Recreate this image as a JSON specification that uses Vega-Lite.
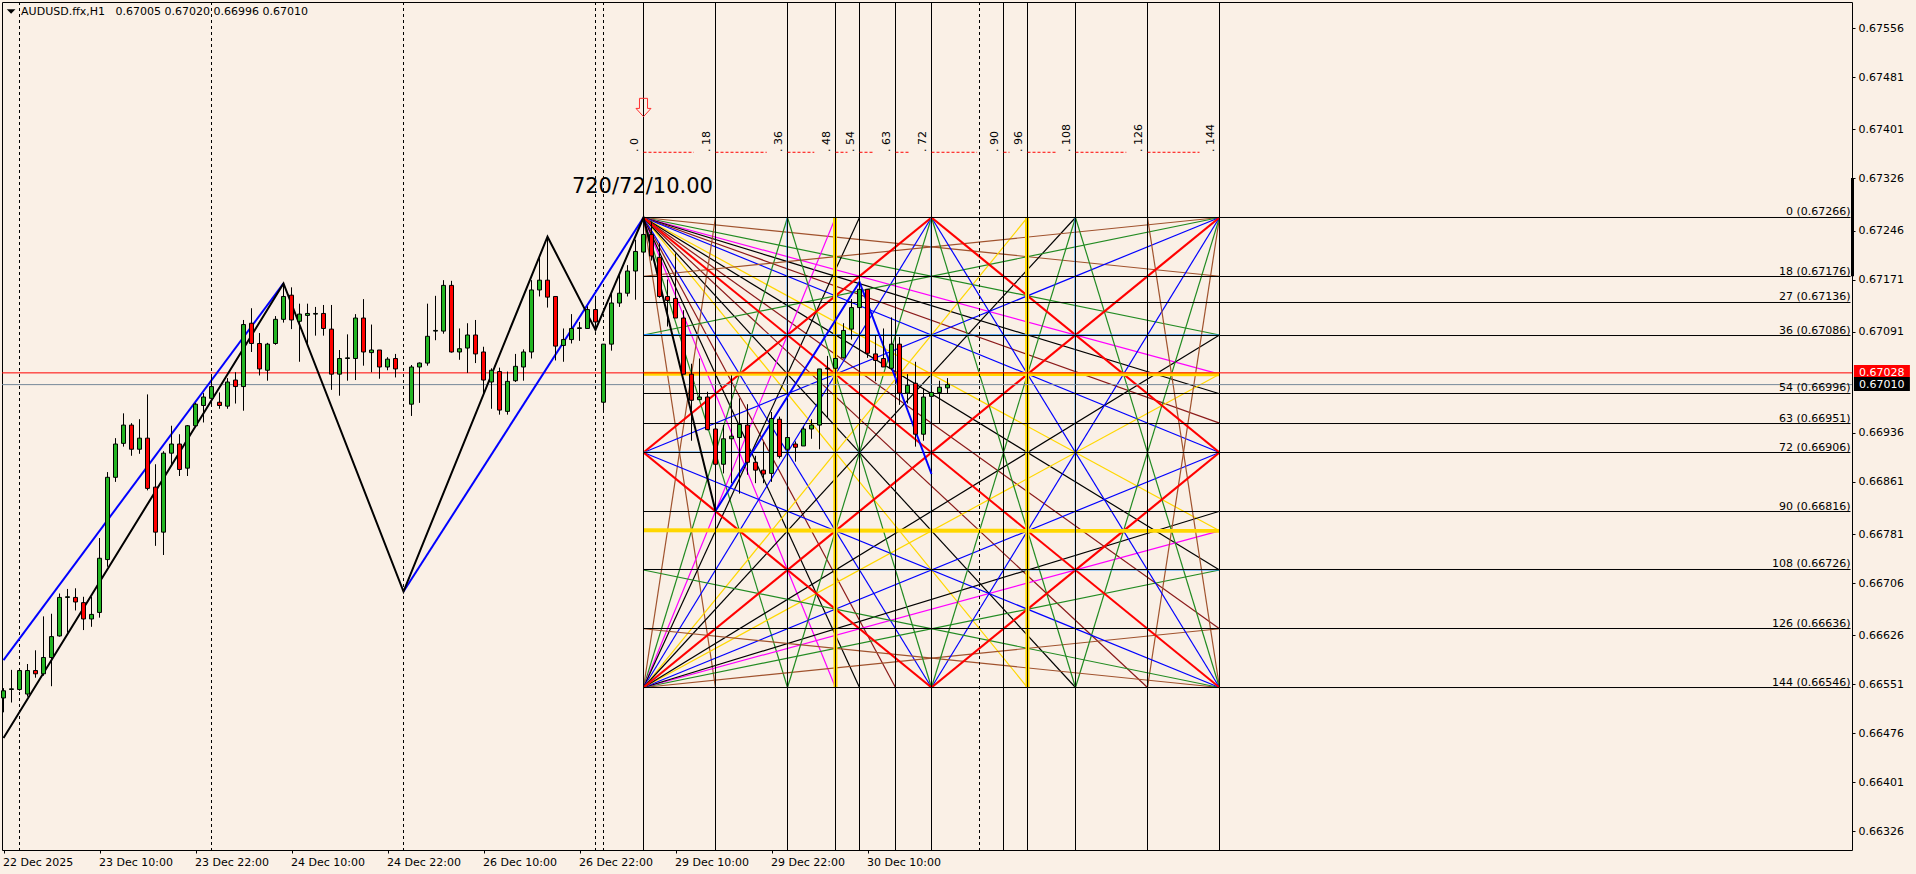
{
"$schema":"https://vega.github.io/schema/vega-lite/v6.json",
"width":1850,"height":848,
"autosize":{"type":"none"},
"padding":{"left":2,"top":2,"right":64,"bottom":24},
"background":"#faf0e6",
"view":{"stroke":"#000000","strokeWidth":1},
"datasets":{
"rays":[
{"t":0,"p":0.67266,"t2":144,"p2":0.67176,"k":"sienna"},{"t":0,"p":0.67266,"t2":144,"p2":0.67086,"k":"green"},{"t":0,"p":0.67266,"t2":144,"p2":0.67026,"k":"magenta"},{"t":0,"p":0.67266,"t2":144,"p2":0.66996,"k":"black"},{"t":0,"p":0.67266,"t2":144,"p2":0.66951,"k":"maroon"},{"t":0,"p":0.67266,"t2":144,"p2":0.66906,"k":"blue"},{"t":0,"p":0.67266,"t2":144,"p2":0.66786,"k":"gold"},{"t":0,"p":0.67266,"t2":144,"p2":0.66726,"k":"black"},{"t":0,"p":0.67266,"t2":144,"p2":0.66636,"k":"maroon"},
{"t":0,"p":0.67266,"t2":18,"p2":0.66546,"k":"sienna"},{"t":0,"p":0.67266,"t2":36,"p2":0.66546,"k":"green"},{"t":0,"p":0.67266,"t2":48,"p2":0.66546,"k":"magenta"},{"t":0,"p":0.67266,"t2":54,"p2":0.66546,"k":"black"},{"t":0,"p":0.67266,"t2":63,"p2":0.66546,"k":"maroon"},{"t":0,"p":0.67266,"t2":72,"p2":0.66546,"k":"blue"},{"t":0,"p":0.67266,"t2":96,"p2":0.66546,"k":"gold"},{"t":0,"p":0.67266,"t2":108,"p2":0.66546,"k":"black"},{"t":0,"p":0.67266,"t2":126,"p2":0.66546,"k":"maroon"},
{"t":0,"p":0.66546,"t2":144,"p2":0.66636,"k":"sienna"},{"t":0,"p":0.66546,"t2":144,"p2":0.66726,"k":"green"},{"t":0,"p":0.66546,"t2":144,"p2":0.66786,"k":"magenta"},{"t":0,"p":0.66546,"t2":144,"p2":0.66816,"k":"black"},{"t":0,"p":0.66546,"t2":144,"p2":0.66906,"k":"blue"},{"t":0,"p":0.66546,"t2":144,"p2":0.67026,"k":"gold"},{"t":0,"p":0.66546,"t2":144,"p2":0.67086,"k":"black"},
{"t":0,"p":0.66546,"t2":18,"p2":0.67266,"k":"sienna"},{"t":0,"p":0.66546,"t2":36,"p2":0.67266,"k":"green"},{"t":0,"p":0.66546,"t2":48,"p2":0.67266,"k":"magenta"},{"t":0,"p":0.66546,"t2":54,"p2":0.67266,"k":"black"},{"t":0,"p":0.66546,"t2":72,"p2":0.67266,"k":"blue"},{"t":0,"p":0.66546,"t2":96,"p2":0.67266,"k":"gold"},{"t":0,"p":0.66546,"t2":108,"p2":0.67266,"k":"black"},
{"t":144,"p":0.67266,"t2":0,"p2":0.67176,"k":"sienna"},{"t":144,"p":0.67266,"t2":0,"p2":0.67086,"k":"green"},{"t":144,"p":0.67266,"t2":0,"p2":0.66906,"k":"blue"},{"t":144,"p":0.67266,"t2":126,"p2":0.66546,"k":"sienna"},{"t":144,"p":0.67266,"t2":108,"p2":0.66546,"k":"green"},{"t":144,"p":0.67266,"t2":72,"p2":0.66546,"k":"blue"},
{"t":144,"p":0.66546,"t2":0,"p2":0.66636,"k":"sienna"},{"t":144,"p":0.66546,"t2":0,"p2":0.66726,"k":"green"},{"t":144,"p":0.66546,"t2":0,"p2":0.66906,"k":"blue"},{"t":144,"p":0.66546,"t2":126,"p2":0.67266,"k":"sienna"},{"t":144,"p":0.66546,"t2":108,"p2":0.67266,"k":"green"},{"t":144,"p":0.66546,"t2":72,"p2":0.67266,"k":"blue"},
{"t":72,"p":0.67266,"t2":36,"p2":0.66546,"k":"green"},{"t":72,"p":0.67266,"t2":108,"p2":0.66546,"k":"green"},{"t":72,"p":0.66546,"t2":36,"p2":0.67266,"k":"green"},{"t":72,"p":0.66546,"t2":108,"p2":0.67266,"k":"green"},
{"t":0,"p":0.67266,"t2":144,"p2":0.66546,"k":"red2"},{"t":0,"p":0.66546,"t2":144,"p2":0.67266,"k":"red"},{"t":0,"p":0.66906,"t2":72,"p2":0.67266,"k":"red"},{"t":72,"p":0.67266,"t2":144,"p2":0.66906,"k":"red"},{"t":144,"p":0.66906,"t2":72,"p2":0.66546,"k":"red"},{"t":72,"p":0.66546,"t2":0,"p2":0.66906,"k":"red"}
],
"bands":[
{"t":48,"p":0.67266,"t2":48,"p2":0.66546,"k":"goldband"},{"t":96,"p":0.67266,"t2":96,"p2":0.66546,"k":"goldband"},{"t":0,"p":0.67026,"t2":144,"p2":0.67026,"k":"goldband"},{"t":0,"p":0.66786,"t2":144,"p2":0.66786,"k":"goldband"},
{"t":36,"p":0.67266,"t2":36,"p2":0.66546,"k":"dodger"},{"t":72,"p":0.67266,"t2":72,"p2":0.66546,"k":"dodger"},{"t":108,"p":0.67266,"t2":108,"p2":0.66546,"k":"dodger"},{"t":0,"p":0.67086,"t2":144,"p2":0.67086,"k":"dodger"},{"t":0,"p":0.66906,"t2":144,"p2":0.66906,"k":"dodger"},{"t":0,"p":0.66726,"t2":144,"p2":0.66726,"k":"dodger"}
],
"levels":[
{"t":0,"t2":301.75,"p":0.67266,"label":"0 (0.67266)"},{"t":0,"t2":301.75,"p":0.671756,"label":"18 (0.67176)"},{"t":0,"t2":301.75,"p":0.671358,"label":"27 (0.67136)"},{"t":0,"t2":301.75,"p":0.670852,"label":"36 (0.67086)"},{"t":0,"t2":301.75,"p":0.669964,"label":"54 (0.66996)"},{"t":0,"t2":301.75,"p":0.669504,"label":"63 (0.66951)"},{"t":0,"t2":301.75,"p":0.66906,"label":"72 (0.66906)"},{"t":0,"t2":301.75,"p":0.668156,"label":"90 (0.66816)"},{"t":0,"t2":301.75,"p":0.667268,"label":"108 (0.66726)"},{"t":0,"t2":301.75,"p":0.666364,"label":"126 (0.66636)"},{"t":0,"t2":301.75,"p":0.66546,"label":"144 (0.66546)"}
],
"verticals":[{"t":0,"label":". 0"},{"t":18,"label":". 18"},{"t":36,"label":". 36"},{"t":48,"label":". 48"},{"t":54,"label":". 54"},{"t":63,"label":". 63"},{"t":72,"label":". 72"},{"t":90,"label":". 90"},{"t":96,"label":". 96"},{"t":108,"label":". 108"},{"t":126,"label":". 126"},{"t":144,"label":". 144"}],
"separators":[{"t":-156},{"t":-108},{"t":-60},{"t":-12},{"t":-10},{"t":84}],
"dashes":[{"t":0,"t2":12.6},{"t":18,"t2":30.8},{"t":36,"t2":42.7},{"t":48,"t2":51},{"t":54,"t2":57.6},{"t":63,"t2":66.5},{"t":72,"t2":83.4},{"t":90,"t2":91.5},{"t":96,"t2":103},{"t":108,"t2":120.7},{"t":126,"t2":139}],
"zigzag":[
{"t":-160,"p":0.664686,"seg":"b"},{"t":-90,"p":0.67165,"seg":"b"},{"t":-60,"p":0.66693,"seg":"b"},{"t":-24,"p":0.672366,"seg":"b"},{"t":-12,"p":0.670937,"seg":"b"},{"t":0,"p":0.67266,"seg":"b"},{"t":18,"p":0.668164,"seg":"b"},
{"t":-160,"p":0.665881,"seg":"u1"},{"t":-90,"p":0.67165,"seg":"u1"},
{"t":-60,"p":0.66693,"seg":"u2"},{"t":0,"p":0.67266,"seg":"u2"},
{"t":18,"p":0.668164,"seg":"u3"},{"t":54,"p":0.671672,"seg":"u3"},{"t":72,"p":0.668731,"seg":"u3"}
],
"candles":[
{"t":-160,"o":0.66530,"h":0.66545,"l":0.66508,"c":0.66541},{"t":-158,"o":0.66543,"h":0.66573,"l":0.66523,"c":0.66544},{"t":-156,"o":0.66543,"h":0.66574,"l":0.66541,"c":0.66572},{"t":-154,"o":0.66536,"h":0.66582,"l":0.66532,"c":0.66572},{"t":-152,"o":0.66572,"h":0.66603,"l":0.66561,"c":0.66567},{"t":-150,"o":0.66567,"h":0.66655,"l":0.66564,"c":0.66592},{"t":-148,"o":0.66592,"h":0.66659,"l":0.66548,"c":0.66624},{"t":-146,"o":0.66625,"h":0.66690,"l":0.66624,"c":0.66684},{"t":-144,"o":0.66684,"h":0.66697,"l":0.66630,"c":0.66685},{"t":-142,"o":0.66684,"h":0.66698,"l":0.66664,"c":0.66677},{"t":-140,"o":0.66676,"h":0.66685,"l":0.66634,"c":0.66651},{"t":-138,"o":0.66651,"h":0.66685,"l":0.66639,"c":0.66658},{"t":-136,"o":0.66661,"h":0.66775,"l":0.66653,"c":0.66744},{"t":-134,"o":0.66742,"h":0.66876,"l":0.66731,"c":0.66868},{"t":-132,"o":0.66868,"h":0.66928,"l":0.66861,"c":0.66919},{"t":-130,"o":0.66920,"h":0.66966,"l":0.66915,"c":0.66948},{"t":-128,"o":0.66948,"h":0.66951,"l":0.66901,"c":0.66911},{"t":-126,"o":0.66911,"h":0.66957,"l":0.66904,"c":0.66928},{"t":-124,"o":0.66928,"h":0.66995,"l":0.66848,"c":0.66851},{"t":-122,"o":0.66853,"h":0.66888,"l":0.66763,"c":0.66784},{"t":-120,"o":0.66784,"h":0.66908,"l":0.66749,"c":0.66905},{"t":-118,"o":0.66905,"h":0.66947,"l":0.66887,"c":0.66919},{"t":-116,"o":0.66919,"h":0.66934,"l":0.66870,"c":0.66880},{"t":-114,"o":0.66882,"h":0.66948,"l":0.66870,"c":0.66947},{"t":-112,"o":0.66947,"h":0.66982,"l":0.66946,"c":0.66980},{"t":-110,"o":0.66978,"h":0.66997,"l":0.66952,"c":0.66991},{"t":-108,"o":0.66989,"h":0.67025,"l":0.66976,"c":0.67007},{"t":-106,"o":0.66983,"h":0.66998,"l":0.66973,"c":0.66978},{"t":-104,"o":0.66977,"h":0.67020,"l":0.66973,"c":0.67014},{"t":-102,"o":0.67017,"h":0.67029,"l":0.66981,"c":0.67007},{"t":-100,"o":0.67007,"h":0.67109,"l":0.66970,"c":0.67102},{"t":-98,"o":0.67104,"h":0.67127,"l":0.67060,"c":0.67073},{"t":-96,"o":0.67073,"h":0.67089,"l":0.67024,"c":0.67034},{"t":-94,"o":0.67032,"h":0.67074,"l":0.67016,"c":0.67072},{"t":-92,"o":0.67073,"h":0.67115,"l":0.67071,"c":0.67110},{"t":-90,"o":0.67110,"h":0.67164,"l":0.67105,"c":0.67145},{"t":-88,"o":0.67147,"h":0.67159,"l":0.67095,"c":0.67109},{"t":-86,"o":0.67107,"h":0.67134,"l":0.67045,"c":0.67118},{"t":-84,"o":0.67116,"h":0.67134,"l":0.67069,"c":0.67119},{"t":-82,"o":0.67118,"h":0.67129,"l":0.67085,"c":0.67119},{"t":-80,"o":0.67119,"h":0.67132,"l":0.67085,"c":0.67096},{"t":-78,"o":0.67095,"h":0.67132,"l":0.67002,"c":0.67026},{"t":-76,"o":0.67026,"h":0.67063,"l":0.66993,"c":0.67050},{"t":-74,"o":0.67050,"h":0.67087,"l":0.67016,"c":0.67051},{"t":-72,"o":0.67050,"h":0.67118,"l":0.67017,"c":0.67112},{"t":-70,"o":0.67112,"h":0.67141,"l":0.67039,"c":0.67060},{"t":-68,"o":0.67059,"h":0.67102,"l":0.67029,"c":0.67063},{"t":-66,"o":0.67063,"h":0.67063,"l":0.67019,"c":0.67037},{"t":-64,"o":0.67037,"h":0.67052,"l":0.67032,"c":0.67049},{"t":-62,"o":0.67050,"h":0.67057,"l":0.67021,"c":0.67034},{"t":-58,"o":0.66980,"h":0.67040,"l":0.66962,"c":0.67037},{"t":-56,"o":0.67037,"h":0.67044,"l":0.66982,"c":0.67043},{"t":-54,"o":0.67043,"h":0.67134,"l":0.67039,"c":0.67084},{"t":-52,"o":0.67092,"h":0.67146,"l":0.67078,"c":0.67093},{"t":-50,"o":0.67092,"h":0.67170,"l":0.67088,"c":0.67162},{"t":-48,"o":0.67162,"h":0.67169,"l":0.67059,"c":0.67060},{"t":-46,"o":0.67060,"h":0.67096,"l":0.67048,"c":0.67065},{"t":-44,"o":0.67066,"h":0.67104,"l":0.67028,"c":0.67086},{"t":-42,"o":0.67086,"h":0.67109,"l":0.67043,"c":0.67057},{"t":-40,"o":0.67060,"h":0.67068,"l":0.66994,"c":0.67017},{"t":-38,"o":0.67014,"h":0.67035,"l":0.66973,"c":0.67032},{"t":-36,"o":0.67030,"h":0.67036,"l":0.66964,"c":0.66971},{"t":-34,"o":0.66969,"h":0.67030,"l":0.66964,"c":0.67015},{"t":-32,"o":0.67016,"h":0.67057,"l":0.67014,"c":0.67038},{"t":-30,"o":0.67037,"h":0.67064,"l":0.67016,"c":0.67060},{"t":-28,"o":0.67060,"h":0.67170,"l":0.67050,"c":0.67155},{"t":-26,"o":0.67155,"h":0.67207,"l":0.67145,"c":0.67170},{"t":-24,"o":0.67170,"h":0.67237,"l":0.67128,"c":0.67144},{"t":-22,"o":0.67145,"h":0.67145,"l":0.67047,"c":0.67069},{"t":-20,"o":0.67070,"h":0.67096,"l":0.67045,"c":0.67079},{"t":-18,"o":0.67079,"h":0.67118,"l":0.67073,"c":0.67096},{"t":-16,"o":0.67096,"h":0.67106,"l":0.67077,"c":0.67097},{"t":-14,"o":0.67096,"h":0.67130,"l":0.67096,"c":0.67125},{"t":-12,"o":0.67125,"h":0.67146,"l":0.67094,"c":0.67106},{"t":-10,"o":0.66983,"h":0.67072,"l":0.66968,"c":0.67072},{"t":-8,"o":0.67072,"h":0.67150,"l":0.67062,"c":0.67135},{"t":-6,"o":0.67135,"h":0.67180,"l":0.67129,"c":0.67150},{"t":-4,"o":0.67150,"h":0.67193,"l":0.67145,"c":0.67184},{"t":-2,"o":0.67184,"h":0.67232,"l":0.67140,"c":0.67214},{"t":0,"o":0.67213,"h":0.67266,"l":0.67213,"c":0.67240},{"t":2,"o":0.67240,"h":0.67260,"l":0.67200,"c":0.67207},{"t":4,"o":0.67205,"h":0.67227,"l":0.67143,"c":0.67145},{"t":6,"o":0.67145,"h":0.67171,"l":0.67099,"c":0.67139},{"t":8,"o":0.67142,"h":0.67211,"l":0.67112,"c":0.67112},{"t":10,"o":0.67112,"h":0.67124,"l":0.67026,"c":0.67026},{"t":12,"o":0.67026,"h":0.67042,"l":0.66924,"c":0.66986},{"t":14,"o":0.66987,"h":0.67050,"l":0.66986,"c":0.66991},{"t":16,"o":0.66991,"h":0.66999,"l":0.66940,"c":0.66941},{"t":18,"o":0.66942,"h":0.66959,"l":0.66888,"c":0.66888},{"t":20,"o":0.66888,"h":0.66948,"l":0.66874,"c":0.66927},{"t":22,"o":0.66927,"h":0.67024,"l":0.66859,"c":0.66931},{"t":24,"o":0.66929,"h":0.66989,"l":0.66843,"c":0.66949},{"t":26,"o":0.66948,"h":0.66980,"l":0.66872,"c":0.66891},{"t":28,"o":0.66891,"h":0.66901,"l":0.66859,"c":0.66879},{"t":30,"o":0.66879,"h":0.66922,"l":0.66859,"c":0.66873},{"t":32,"o":0.66874,"h":0.66968,"l":0.66861,"c":0.66958},{"t":34,"o":0.66957,"h":0.66961,"l":0.66897,"c":0.66900},{"t":36,"o":0.66911,"h":0.66930,"l":0.66905,"c":0.66929},{"t":38,"o":0.66919,"h":0.66923,"l":0.66892,"c":0.66914},{"t":40,"o":0.66916,"h":0.66946,"l":0.66916,"c":0.66942},{"t":42,"o":0.66942,"h":0.66957,"l":0.66927,"c":0.66948},{"t":44,"o":0.66948,"h":0.67034,"l":0.66911,"c":0.67034},{"t":46,"o":0.67034,"h":0.67054,"l":0.66960,"c":0.67035},{"t":48,"o":0.67035,"h":0.67053,"l":0.67026,"c":0.67050},{"t":50,"o":0.67051,"h":0.67104,"l":0.67050,"c":0.67093},{"t":52,"o":0.67095,"h":0.67141,"l":0.67079,"c":0.67128},{"t":54,"o":0.67128,"h":0.67168,"l":0.67128,"c":0.67156},{"t":56,"o":0.67156,"h":0.67156,"l":0.67051,"c":0.67058},{"t":58,"o":0.67057,"h":0.67086,"l":0.67015,"c":0.67047},{"t":60,"o":0.67050,"h":0.67096,"l":0.67037,"c":0.67037},{"t":62,"o":0.67035,"h":0.67113,"l":0.67032,"c":0.67072},{"t":64,"o":0.67072,"h":0.67083,"l":0.66979,"c":0.66997},{"t":66,"o":0.66997,"h":0.67026,"l":0.66981,"c":0.67009},{"t":68,"o":0.67012,"h":0.67045,"l":0.66915,"c":0.66934},{"t":70,"o":0.66934,"h":0.67004,"l":0.66924,"c":0.66991},{"t":72,"o":0.66992,"h":0.67004,"l":0.66992,"c":0.66998},{"t":74,"o":0.66998,"h":0.67016,"l":0.66951,"c":0.67006},{"t":76,"o":0.67005,"h":0.67020,"l":0.66996,"c":0.67010}
],
"tags":[{"label":"0.67028","p":0.67028,"top":0.6704,"bot":0.670217},{"label":"0.67010","p":0.6701,"top":0.670217,"bot":0.670002}],
"notes":[{"t":-155.6,"p":0.675808,"label":"AUDUSD.ffx,H1\u00a0\u00a0\u00a00.67005 0.67020 0.66996 0.67010"}]
},
"layer":[
{"data":{"name":"rays"},"mark":{"type":"rule"},
"encoding":{
"x":{"field":"t","type":"quantitative","title":null,"scale":{"domain":[-160.375,302.125],"nice":false,"zero":false,"padding":0},
"axis":{"title":null,"values":[-160,-136,-112,-88,-64,-40,-16,8,32,56],"grid":false,"domain":false,"tickColor":"#000000","tickSize":3,"labelFont":"DejaVu Sans","labelFontSize":11,"labelColor":"#000000","labelAlign":"left","labelBaseline":"top","labelPadding":3,"labelOffset":-1,"labelOverlap":false,"labelFlush":false,"labelBound":false,
"labelExpr":"{'-160':'22 Dec 2025','-136':'23 Dec 10:00','-112':'23 Dec 22:00','-88':'24 Dec 10:00','-64':'24 Dec 22:00','-40':'26 Dec 10:00','-16':'26 Dec 22:00','8':'29 Dec 10:00','32':'29 Dec 22:00','56':'30 Dec 10:00'}[datum.value]"}},
"y":{"field":"p","type":"quantitative","title":null,"scale":{"domain":[0.662971,0.675961],"nice":false,"zero":false,"padding":0},
"axis":{"title":null,"orient":"right","values":[0.67556,0.67481,0.67401,0.67326,0.67246,0.67171,0.67091,0.66936,0.66861,0.66781,0.66706,0.66626,0.66551,0.66476,0.66401,0.66326],"format":".5f","grid":false,"domain":false,"tickColor":"#000000","tickSize":3,"labelFont":"DejaVu Sans","labelFontSize":11,"labelColor":"#000000","labelPadding":3,"labelOverlap":false,"labelFlush":false,"labelBound":false}},
"x2":{"field":"t2"},"y2":{"field":"p2"},
"color":{"field":"k","type":"nominal","legend":null,"scale":{"domain":["sienna","green","magenta","black","maroon","blue","gold","red","red2","goldband","dodger"],"range":["#a0522d","#228b22","#ff00ff","#000000","#8b1a1a","#0000ff","#ffd700","#ff0000","#ff0000","#ffd700","#1e90ff"]}},
"strokeWidth":{"field":"k","type":"nominal","legend":null,"scale":{"type":"ordinal","domain":["sienna","green","magenta","black","maroon","blue","gold","red","red2","goldband","dodger"],"range":[1.2,1.2,1.2,1.2,1.2,1.2,1.2,2.2,2,2,2]}}
}},
{"data":{"name":"bands"},"mark":{"type":"rule","xOffset":-0.5,"yOffset":-0.5},
"encoding":{"x":{"field":"t","type":"quantitative"},"y":{"field":"p","type":"quantitative"},"x2":{"field":"t2"},"y2":{"field":"p2"},
"color":{"field":"k","type":"nominal","legend":null},"strokeWidth":{"field":"k","type":"nominal","legend":null}}},
{"data":{"name":"verticals"},"mark":{"type":"rule","color":"#000000","strokeWidth":1},"encoding":{"x":{"field":"t","type":"quantitative"}}},
{"data":{"name":"separators"},"mark":{"type":"rule","color":"#000000","strokeWidth":1,"strokeDash":[3,3]},"encoding":{"x":{"field":"t","type":"quantitative"}}},
{"data":{"name":"levels"},"mark":{"type":"rule","color":"#000000","strokeWidth":1},"encoding":{"x":{"field":"t","type":"quantitative"},"x2":{"field":"t2"},"y":{"field":"p","type":"quantitative"}}},
{"data":{"name":"dashes"},"mark":{"type":"rule","color":"#ff0000","strokeWidth":1,"strokeDash":[3,2]},"encoding":{"x":{"field":"t","type":"quantitative"},"x2":{"field":"t2"},"y":{"datum":0.673659,"type":"quantitative"}}},
{"data":{"values":[{"price":0.67028}]},"mark":{"type":"rule","color":"#ff0000","strokeWidth":1},"encoding":{"y":{"field":"price","type":"quantitative"}}},
{"data":{"values":[{"price":0.6701}]},"mark":{"type":"rule","color":"#778899","strokeWidth":1},"encoding":{"y":{"field":"price","type":"quantitative"}}},
{"data":{"name":"zigzag"},"transform":[{"filter":"datum.seg!='b'"}],"mark":{"type":"line","color":"#0000ff","strokeWidth":2},"encoding":{"x":{"field":"t","type":"quantitative"},"y":{"field":"p","type":"quantitative"},"detail":{"field":"seg"}}},
{"data":{"name":"zigzag"},"transform":[{"filter":"datum.seg=='b'"}],"mark":{"type":"line","color":"#000000","strokeWidth":2},"encoding":{"x":{"field":"t","type":"quantitative"},"y":{"field":"p","type":"quantitative"}}},
{"data":{"name":"candles"},"mark":{"type":"rule","color":"#000000","strokeWidth":1},"encoding":{"x":{"field":"t","type":"quantitative"},"y":{"field":"l","type":"quantitative"},"y2":{"field":"h"}}},
{"data":{"name":"candles"},"mark":{"type":"bar","size":4,"stroke":"#000000","strokeWidth":1},"encoding":{"x":{"field":"t","type":"quantitative"},"y":{"field":"o","type":"quantitative"},"y2":{"field":"c"},
"fill":{"condition":{"test":"datum.c>=datum.o","value":"#22b522"},"value":"#ff0000"}}},
{"data":{"name":"verticals"},"mark":{"type":"text","angle":270,"align":"left","baseline":"alphabetic","dy":-6,"font":"DejaVu Sans","fontSize":11,"color":"#000000"},"encoding":{"x":{"field":"t","type":"quantitative"},"y":{"datum":0.673663,"type":"quantitative"},"text":{"field":"label"}}},
{"data":{"name":"levels"},"mark":{"type":"text","align":"right","baseline":"alphabetic","dy":-2,"font":"DejaVu Sans","fontSize":11,"color":"#000000"},"encoding":{"x":{"field":"t2","type":"quantitative"},"y":{"field":"p","type":"quantitative"},"text":{"field":"label"}}},
{"data":{"values":[{"label":"720/72/10.00"}]},"mark":{"type":"text","align":"left","baseline":"alphabetic","font":"DejaVu Sans","fontSize":21,"color":"#000000"},"encoding":{"x":{"datum":-17.9,"type":"quantitative"},"y":{"datum":0.67304,"type":"quantitative"},"text":{"field":"label"}}},
{"data":{"name":"notes"},"mark":{"type":"text","align":"left","baseline":"middle","font":"DejaVu Sans","fontSize":11,"color":"#000000"},"encoding":{"x":{"field":"t","type":"quantitative"},"y":{"field":"p","type":"quantitative"},"text":{"field":"label"}}},
{"data":{"values":[{"name":"menu"}]},"mark":{"type":"point","shape":"M-1,-0.5L1,-0.5L0,0.5Z","size":75,"filled":true,"color":"#000000","opacity":1},"encoding":{"x":{"datum":-158.1,"type":"quantitative"},"y":{"datum":0.675816,"type":"quantitative"}}},
{"data":{"values":[{"name":"arrow"}]},"mark":{"type":"point","shape":"M-0.44,-1L0.44,-1L0.44,0.1L0.82,0.1L0,1L-0.82,0.1L-0.44,0.1Z","size":335,"filled":false,"stroke":"#ff3030","strokeWidth":1,"opacity":1},"encoding":{"x":{"datum":0,"type":"quantitative"},"y":{"datum":0.674345,"type":"quantitative"}}},
{"data":{"values":[{"name":"scroll"}]},"mark":{"type":"rule","color":"#000000","strokeWidth":3},"encoding":{"x":{"datum":302.25,"type":"quantitative"},"y":{"datum":0.673265,"type":"quantitative"},"y2":{"datum":0.67176}}},
{"data":{"name":"tags"},"mark":{"type":"rect"},"encoding":{"x":{"datum":302.6,"type":"quantitative"},"x2":{"datum":316.6},"y":{"field":"top","type":"quantitative"},"y2":{"field":"bot"},
"fill":{"field":"label","type":"nominal","legend":null,"scale":{"domain":["0.67028","0.67010"],"range":["#ff0000","#000000"]}}}},
{"data":{"name":"tags"},"mark":{"type":"text","align":"left","baseline":"middle","font":"DejaVu Sans","fontSize":11,"color":"#ffffff"},"encoding":{"x":{"datum":303.9,"type":"quantitative"},"y":{"field":"p","type":"quantitative"},"text":{"field":"label"}}}
]
}
